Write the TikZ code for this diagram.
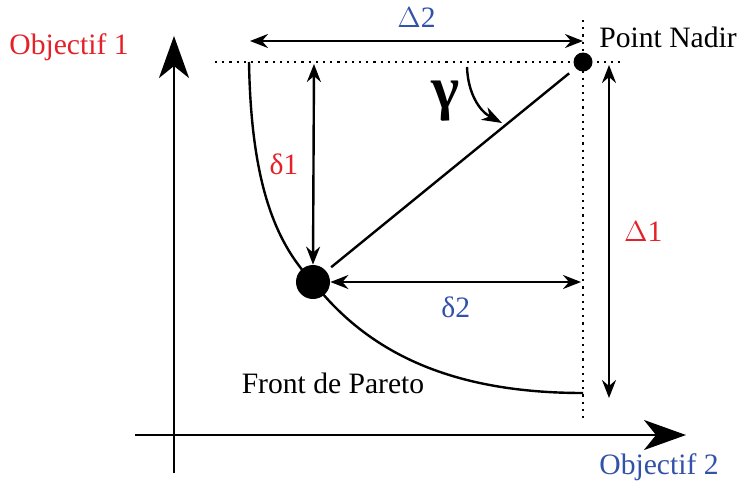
\documentclass[tikz,border=0pt]{standalone}
\usepackage{fontspec}
\setmainfont{Liberation Serif}
\usepackage{xcolor}
\usetikzlibrary{positioning,arrows.meta,calc}
\definecolor{objred}{RGB}{228,32,40}
\definecolor{objblue}{RGB}{50,82,170}

\begin{document}
\begin{tikzpicture}[x=0.5pt,y=-0.5pt, font=\fontsize{14.8}{17}\selectfont,
  axis/.style={line width=1.4pt,-{Stealth[length=21pt,width=15pt,inset=6pt]}},
  dist/.style={line width=1.2pt,{Stealth[length=9pt,width=7pt,inset=3pt]}-{Stealth[length=9pt,width=7pt,inset=3pt]}},
  dots/.style={line width=1.1pt,dash pattern=on 1.1pt off 2.5pt},
  lbl/.style={inner sep=0pt}]
\useasboundingbox (0,0) rectangle (739,483);
% axes
\coordinate (o1b) at (174,473);
\coordinate (o1t) at (174,36);
\coordinate (o2l) at (135,435);
\coordinate (o2r) at (686,435);
\draw[axis] (o1b) -- (o1t);
\draw[axis] (o2l) -- (o2r);
\node[lbl,text=objred] (obj1) at (69,47) {Objectif 1};
\node[lbl,text=objblue] (obj2) at (659,467) {Objectif 2};
% nadir point and dotted guides
\node[circle,fill=black,inner sep=0pt,minimum size=9.5pt] (nadir) at (583,62) {};
\node[lbl] (nadirtxt) at (668,37) {Point Nadir};
\coordinate (hl) at (215,62);
\coordinate (hr) at (622,62);
\coordinate (vt) at (583,20);
\coordinate (vb) at (583,422);
\draw[dots] (hl) -- (hr);
\draw[dots] (vt) -- (vb);
% pareto front
\node[circle,fill=black,inner sep=0pt,minimum size=17pt] (sol) at (313,282) {};
\coordinate (pf0) at (249,62);
\coordinate (pf1) at (583,393);
\draw[line width=1.2pt] (pf0) .. controls (251,175) and (272,240) .. (sol.center)
  .. controls (370,355) and (455,393) .. (pf1);
\node[lbl] (front) at (333,383) {Front de Pareto};
% distances
\coordinate (d2l) at (250,41);
\coordinate (d2r) at (583,41);
\draw[dist] (d2l) -- node[lbl,above=6pt,text=objblue] (lD2) {$\Delta$2} (d2r);
\coordinate (d1t) at (609,65);
\coordinate (d1b) at (609,398);
\draw[dist] (d1t) -- node[lbl,right=7pt,text=objred] (lD1) {$\Delta$1} (d1b);
\coordinate (e1t) at (314,64);
\draw[dist] (e1t) -- (sol.north) node[lbl,midway,left=7pt,text=objred] (le1) {δ1};
\coordinate (e2r) at (581,282);
\draw[dist] (sol.east) -- node[lbl,below=7pt,text=objblue] (le2) {δ2} (e2r);
% angle
\draw[line width=1.2pt,shorten <=3pt,shorten >=4pt] (sol) -- (nadir);
\coordinate (ga) at (467,67);
\coordinate (gb) at (502,123);
\draw[line width=1.2pt,-{Stealth[length=10pt,width=7pt,inset=3pt]}] (ga) to[bend right=30] (gb);
\node[lbl,font=\fontsize{30}{30}\selectfont\bfseries] (gam) at (446,101) {γ};
\end{tikzpicture}
\end{document}
